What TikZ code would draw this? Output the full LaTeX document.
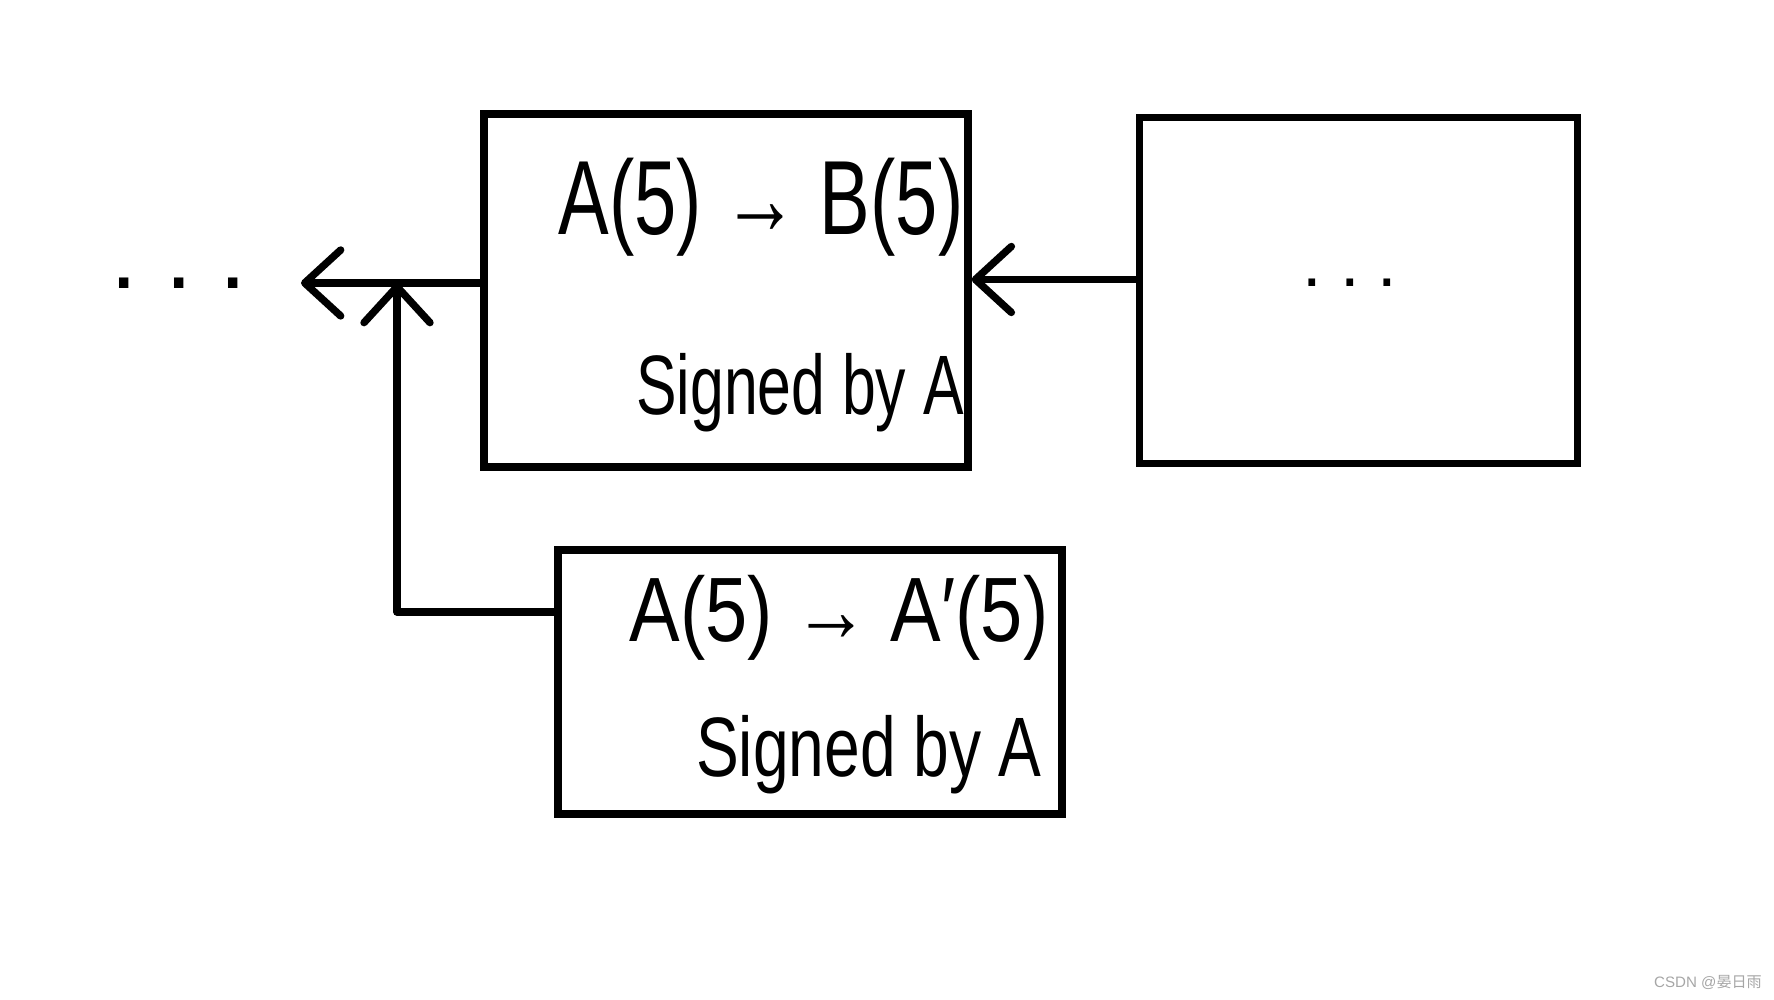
\documentclass[tikz,border=0pt]{standalone}
\usepackage{fontspec}
\setmainfont{Liberation Sans}
\newfontfamily\cjkfont{Noto Sans CJK SC}
\usetikzlibrary{positioning,arrows.meta}
\newcommand{\handtxt}[3]{\scalebox{#1}[1]{\fontsize{#2}{#2}\selectfont #3}}
\tikzset{
  chainbox/.style={draw, line width=2.1pt, inner sep=0pt},
  link/.style={line width=2.1pt, line cap=round, line join=round,
    -{Straight Barb[round,length=3.6mm,width=6.6mm]}},
}

\begin{document}
\begin{tikzpicture}
\useasboundingbox (0,0) rectangle (17.74,10);

% blocks
\node[chainbox, minimum width=4.84cm, minimum height=3.53cm] (chain) at (7.26,7.095) {};
\node[chainbox, minimum width=4.38cm, minimum height=3.46cm, right=1.64cm of chain] (next) {};
\node[chainbox, minimum width=5.04cm, minimum height=2.64cm] (fork) at (8.1,3.18) {};

% texts
\node[anchor=base] (chaintx) at (7.61,7.65) {\handtxt{0.72}{30pt}{A(5) → B(5)}};
\node[anchor=base] (chainsig) at (8.0,5.85) {\handtxt{0.72}{24pt}{Signed by A}};
\node[anchor=base] (forktx) at (8.39,3.58) {\handtxt{0.83}{26pt}{A(5) → A′(5)}};
\node[anchor=base] (forksig) at (8.69,2.23) {\handtxt{0.76}{24pt}{Signed by A}};
\node (nextdots) at (13.5,7.17) {\fontsize{20pt}{20pt}\selectfont .\hspace{0.18cm}.\hspace{0.18cm}.};
\node (leftdots) at (1.79,7.17) {\fontsize{28pt}{28pt}\selectfont .\hspace{0.27cm}.\hspace{0.27cm}.};

% connectors
\coordinate (tail) at (3.01,7.17);
\coordinate (join) at (3.97,7.17);
\draw[link] (chain.west |- tail) -- (tail);
\draw[link] ([yshift=1.1mm]next.west) -- ([yshift=1.1mm]chain.east);
\draw[link] ([yshift=7.0mm]fork.west) -| (join);

\node[text=gray!70] (mark) at (17.08,0.17) {\fontsize{4.3pt}{5pt}\selectfont CSDN @{\cjkfont 晏日雨}};
\end{tikzpicture}
\end{document}
